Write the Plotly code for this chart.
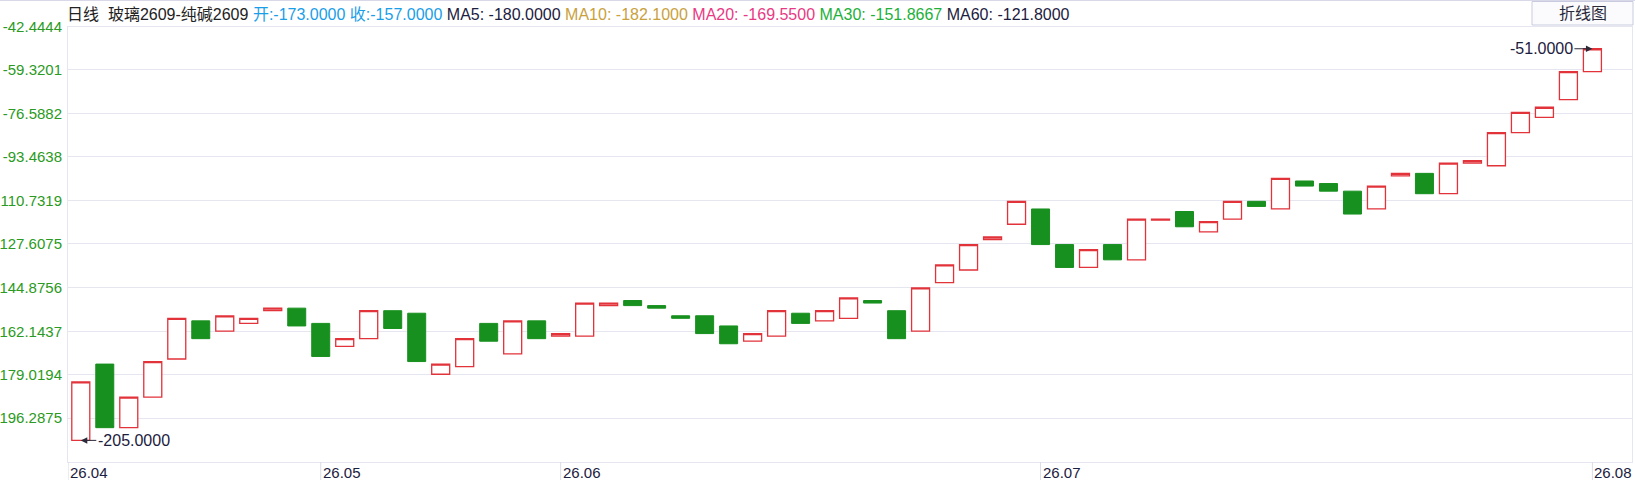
from plotly import graph_objects as go

# ---- data ---------------------------------------------------------------
title = "日线&nbsp; 玻璃2609-纯碱2609"
quote_text = "开:-173.0000 收:-157.0000"
ma_names = ["MA5", "MA10", "MA20", "MA30", "MA60"]
ma_values = [-180.0000, -182.1000, -169.5500, -151.8667, -121.8000]

opens = [-205, -175, -200, -188, -173, -158, -162, -159, -154, -153,
         -159, -168, -165, -154, -155, -179, -176, -159, -171, -158,
         -164, -164, -152, -150, -152, -156, -156, -160, -166, -164,
         -155, -158, -157, -150, -154, -162, -143, -138, -126, -120,
         -114, -128, -137, -128, -134, -118.4, -115, -123, -118, -111,
         -114, -103, -104, -107, -114, -101, -100, -108, -96, -97,
         -84, -78, -71, -60]
closes = [-182, -200, -188, -174, -157, -165, -156, -157, -153, -160,
          -172, -165, -154, -161, -174, -175, -165, -166, -158, -165,
          -163, -151, -151, -152, -153, -157, -163, -167, -163, -154,
          -159, -154, -149, -151, -165, -145, -136, -128, -125, -111,
          -128, -137, -130, -134, -118, -118, -121, -119, -111, -113,
          -102, -105, -107, -116, -105, -100, -108, -96, -95, -84,
          -76, -74, -60, -51]

y_tick_vals = [-42.4444, -59.3201, -76.5882, -93.4638, -110.7319,
               -127.6075, -144.8756, -162.1437, -179.0194, -196.2875]
# the longer labels are clipped at the left edge in the original
y_tick_text = ["-42.4444", "-59.3201", "-76.5882", "-93.4638", "110.7319",
               "127.6075", "144.8756", "162.1437", "179.0194", "196.2875"]

# month marks sit on the candle index of the first bar in that month
x_tick_pos = [-0.53, 10, 20, 40, 63]
x_tick_text = ["26.04", "26.05", "26.06", "26.07", "26.08"]

low_mark = -205.0
high_mark = -51.0

# ---- styling --------------------------------------------------------------
FONT = "Liberation Sans, Arial, Noto Sans CJK SC, sans-serif"
RED = "#e2323a"
GREEN = "#18901f"
GRID = "#e6e6f0"
NAVY = "#1c2040"
ma_colors = ["#1c2040", "#c9a13d", "#e83a84", "#22b03a", "#1c2040"]

PLOT_L, PLOT_R, PLOT_T, PLOT_B = 68, 1632, 27, 462


def px_x(x):
    return (x - PLOT_L) / (PLOT_R - PLOT_L)


def px_y(y):
    return (PLOT_B - y) / (PLOT_B - PLOT_T)


days = list(range(len(opens)))
highs = [max(o, c) for o, c in zip(opens, closes)]
lows = [min(o, c) for o, c in zip(opens, closes)]

fig = go.Figure()

fig.add_trace(
    go.Candlestick(
        x=days,
        open=opens,
        high=highs,
        low=lows,
        close=closes,
        increasing=dict(fillcolor="white", line=dict(color=RED, width=1.3)),
        decreasing=dict(fillcolor=GREEN, line=dict(color=GREEN, width=1)),
        whiskerwidth=0,
        hoverinfo="skip",
    )
)

# header line
parts = [f'<span style="color:#222222">{title}</span>',
         f'<span style="color:#1a9ee8">{quote_text}</span>']
for name, val, col in zip(ma_names, ma_values, ma_colors):
    parts.append(f'<span style="color:{col}">{name}: {val:.4f}</span>')

mark_arrow = dict(showarrow=True, arrowhead=2, arrowsize=1.3, arrowwidth=1,
                  arrowcolor="#2a2a3a")

annotations = [
    dict(
        xref="paper", yref="paper", x=px_x(65), y=px_y(15),
        xanchor="left", yanchor="middle", showarrow=False,
        text=" ".join(parts), font=dict(size=16, family=FONT),
    ),
    dict(
        xref="paper", yref="paper", x=px_x(1583), y=px_y(13.5),
        xanchor="center", yanchor="middle", showarrow=False,
        text="折线图", font=dict(size=16, family=FONT, color="#2a2a3a"),
    ),
    dict(
        x=days[lows.index(min(lows))], y=low_mark, xref="x", yref="y",
        text=f"{low_mark:.4f}", ax=53, ay=0,
        font=dict(size=16, family=FONT, color=NAVY), **mark_arrow,
    ),
    dict(
        x=days[highs.index(max(highs))], y=high_mark, xref="x", yref="y",
        text=f"{high_mark:.4f}", ax=-51, ay=0,
        font=dict(size=16, family=FONT, color=NAVY), **mark_arrow,
    ),
]

# month labels, left-aligned next to their tick line
for p, t in zip(x_tick_pos, x_tick_text):
    annotations.append(dict(
        x=p, xref="x", y=px_y(472), yref="paper",
        xanchor="left", yanchor="middle", xshift=0, showarrow=False,
        text=t, font=dict(size=15, family=FONT, color=NAVY),
    ))

shapes = [
    # button box
    dict(type="rect", xref="paper", yref="paper",
         x0=px_x(1532), x1=px_x(1633), y0=px_y(25), y1=px_y(1.5),
         line=dict(color="#c8cbe0", width=1), fillcolor="#fbfbfe", layer="below"),
    # top frame line of the widget
    dict(type="line", xref="paper", yref="paper",
         x0=px_x(0), x1=px_x(1635), y0=px_y(0.5), y1=px_y(0.5),
         line=dict(color="#d8d8e8", width=1)),
]
# month tick lines below the axis
for p in x_tick_pos:
    shapes.append(dict(type="line", xref="x", yref="paper",
                       x0=p, x1=p, y0=0, y1=px_y(480),
                       line=dict(color="#dcdce8", width=1)))

fig.update_layout(
    width=1635,
    height=480,
    margin=dict(l=PLOT_L, r=1635 - PLOT_R, t=PLOT_T, b=480 - PLOT_B,
                autoexpand=False),
    paper_bgcolor="white",
    plot_bgcolor="white",
    showlegend=False,
    boxgap=0.25,
    boxgroupgap=0,
    font=dict(family=FONT),
    annotations=annotations,
    shapes=shapes,
    xaxis=dict(
        range=[-0.533, 64.65],
        rangeslider=dict(visible=False),
        automargin=False,
        showgrid=False, zeroline=False,
        showline=True, mirror=True, linecolor=GRID, linewidth=1,
        showticklabels=False, ticks="",
    ),
    yaxis=dict(
        range=[-213.5, -42.4444],
        automargin=False,
        showgrid=True, gridcolor=GRID, gridwidth=1,
        zeroline=False,
        showline=True, mirror=True, linecolor=GRID, linewidth=1,
        tickvals=y_tick_vals, ticktext=y_tick_text,
        ticks="", ticklabelstandoff=2,
        tickfont=dict(size=15, color="#2a9a22", family=FONT),
    ),
    yaxis2=dict(
        overlaying="y", side="right", range=[-213.5, -42.4444],
        automargin=False,
        tickvals=y_tick_vals, showticklabels=False, showgrid=False,
        zeroline=False, ticks="outside", ticklen=3, tickcolor="#e8c84a",
    ),
)

# the page's default body margin would shift the chart by 8px
fig.write_html(
    "out.html",
    config={"displayModeBar": False},
    post_script="document.body.style.margin='0px';",
)
